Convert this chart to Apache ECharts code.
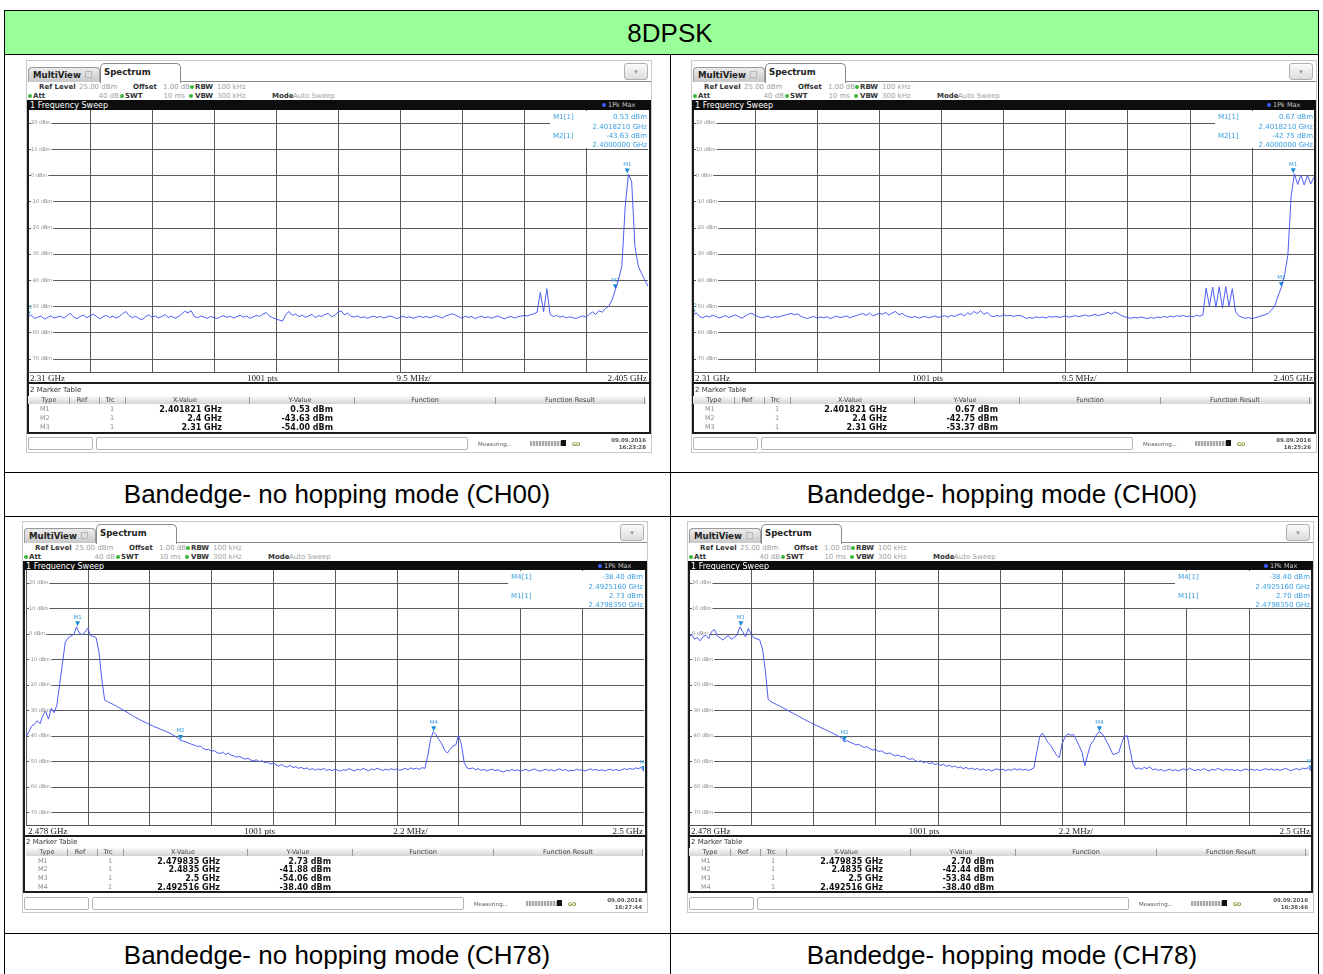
<!DOCTYPE html>
<html><head><meta charset="utf-8">
<script src="https://cdn.jsdelivr.net/npm/echarts@6/dist/echarts.min.js"></script>
<style>
body{margin:0;width:1323px;height:974px;position:relative;overflow:hidden;background:#fff;font-family:"DejaVu Sans",sans-serif;}
.a{position:absolute;white-space:nowrap;box-sizing:border-box;}
</style></head><body>
<script>
// ---------------- DATA ----------------
const TITLE = '8DPSK';
const CAPTIONS = ['Bandedge- no hopping mode (CH00)', 'Bandedge- hopping mode (CH00)', 'Bandedge- no hopping mode (CH78)', 'Bandedge- hopping mode (CH78)'];
const SWEEP_CH00 = [2.31, 2.405];   // GHz start / stop
const SWEEP_CH78 = [2.478, 2.5];
const X_TICKS_CH00 = [2.31, 2.3195, 2.329, 2.3385, 2.348, 2.3575, 2.367, 2.3765, 2.386, 2.3955, 2.405];
const X_TICKS_CH78 = [2.478, 2.4802, 2.4824, 2.4846, 2.4868, 2.489, 2.4912, 2.4934, 2.4956, 2.4978, 2.5];
const Y_TICKS = [-70, -60, -50, -40, -30, -20, -10, 0, 10, 20];
const Y_RANGE = [-75, 25];
const X_AXIS_TEXT_CH00 = ['2.31 GHz', '1001 pts', '9.5 MHz/', '2.405 GHz'];
const X_AXIS_TEXT_CH78 = ['2.478 GHz', '1001 pts', '2.2 MHz/', '2.5 GHz'];
const DATE = '09.09.2016';
const TIMES = ['16:23:28', '16:25:26', '16:27:44', '16:38:46'];

// trace levels (dBm), evenly spaced sweep points from start to stop
const LEVEL_NOHOP_CH00 = [
-54.0,-53.2,-54.6,-54.1,-53.6,-54.8,-54.2,-53.5,-54.4,-54.0,
-53.7,-54.5,-53.4,-52.6,-54.1,-54.6,-53.8,-53.3,-54.3,-53.6,
-52.9,-53.8,-54.7,-53.9,-53.4,-54.2,-53.6,-54.5,-53.8,-52.7,
-51.9,-53.5,-54.3,-53.7,-54.6,-55.0,-53.9,-53.2,-54.1,-53.6,
-54.4,-53.8,-53.1,-54.2,-53.7,-54.5,-53.9,-53.0,-51.8,-52.4,
-51.6,-53.9,-54.3,-53.6,-54.1,-54.5,-53.8,-54.2,-54.6,-53.9,
-53.5,-54.2,-53.7,-54.4,-53.9,-53.3,-54.1,-53.6,-54.5,-54.0,
-53.4,-53.8,-52.9,-52.3,-53.6,-54.3,-54.8,-55.2,-55.6,-53.1,
-51.9,-53.4,-52.8,-53.9,-53.3,-54.1,-53.6,-53.0,-54.2,-53.5,
-53.8,-53.1,-52.6,-53.9,-53.4,-52.2,-51.7,-53.2,-52.5,-53.8,
-54.0,-53.6,-54.3,-53.9,-54.5,-54.0,-53.7,-54.2,-53.8,-54.4,
-54.0,-53.6,-54.1,-54.6,-54.2,-53.7,-54.3,-53.9,-54.5,-54.1,
-53.7,-54.2,-53.8,-54.3,-54.0,-53.5,-53.9,-54.4,-53.6,-53.2,
-52.8,-53.3,-53.9,-54.5,-53.7,-54.2,-53.8,-54.6,-54.1,-53.7,
-54.3,-53.9,-54.5,-54.0,-53.6,-54.2,-54.7,-54.1,-53.8,-54.4,
-54.0,-53.7,-53.4,-53.6,-53.1,-52.8,-52.2,-44.6,-52.0,-43.2,
-53.0,-53.8,-53.4,-54.1,-53.7,-54.4,-53.9,-54.3,-54.6,-54.0,
-53.6,-54.0,-53.0,-52.1,-53.0,-51.6,-52.2,-50.7,-49.9,-47.4,
-43.63,-39.5,-34.5,-12.0,0.53,-2.5,-27.0,-34.5,-37.3,-39.8,-42.3];
const LEVEL_HOP_CH00 = [
-53.37,-52.4,-53.8,-54.3,-53.6,-54.0,-53.3,-53.8,-54.4,-53.9,
-53.5,-54.2,-53.7,-53.2,-53.9,-54.5,-53.6,-52.9,-52.6,-53.4,
-53.9,-54.3,-54.0,-53.6,-54.4,-53.8,-54.1,-53.7,-53.3,-53.0,
-52.6,-53.1,-52.8,-53.7,-54.2,-54.6,-54.1,-53.8,-54.5,-54.0,
-54.3,-53.9,-54.6,-54.1,-53.7,-54.2,-54.0,-53.6,-54.3,-53.8,
-53.5,-53.0,-52.7,-53.4,-52.5,-53.6,-53.1,-52.6,-52.9,-52.3,
-53.3,-52.4,-51.9,-53.2,-52.6,-53.5,-53.9,-54.2,-53.8,-54.4,
-54.1,-53.7,-54.3,-54.0,-53.6,-54.2,-53.9,-53.5,-54.1,-53.4,
-53.8,-53.2,-52.8,-53.6,-52.4,-53.1,-51.9,-52.7,-51.6,-53.0,
-52.3,-53.5,-53.9,-53.4,-53.8,-53.1,-53.6,-53.3,-53.8,-53.5,
-53.4,-53.9,-54.6,-54.2,-54.5,-53.9,-54.3,-54.0,-54.4,-53.8,
-54.1,-53.7,-54.2,-53.9,-53.6,-54.1,-53.8,-53.5,-53.9,-53.6,
-53.2,-53.7,-53.4,-53.0,-53.5,-53.1,-52.8,-52.2,-52.9,-52.1,
-52.6,-53.4,-53.9,-54.2,-54.5,-54.1,-54.4,-54.0,-54.3,-54.6,
-54.2,-54.5,-54.0,-54.3,-53.8,-54.1,-53.7,-54.0,-53.5,-53.8,
-53.4,-53.9,-53.6,-54.0,-53.3,-53.7,-53.2,-43.0,-49.8,-42.6,
-50.3,-42.5,-50.6,-42.4,-49.9,-43.2,-52.0,-53.6,-54.1,-54.5,
-54.2,-54.6,-54.3,-53.9,-53.5,-53.2,-52.6,-51.4,-49.8,-46.0,
-42.75,-37.8,-30.5,-8.0,0.67,-3.4,0.2,-3.6,0.1,-3.2,-0.6];
const LEVEL_NOHOP_CH78 = [
-40.4,-38.5,-36.2,-35.5,-34.1,-35.3,-32.0,-30.4,-33.5,-29.2,
-31.0,-28.0,-19.5,-11.5,-3.2,-1.6,-0.9,-0.3,2.73,0.2,
-0.4,0.6,2.2,-0.8,-1.0,-1.6,-7.5,-18.0,-26.0,-26.6,
-27.2,-27.7,-28.3,-28.9,-29.5,-30.2,-30.8,-31.5,-32.1,-32.8,
-33.4,-34.0,-34.5,-35.0,-35.6,-36.1,-36.6,-37.0,-37.5,-37.9,
-38.4,-38.9,-39.5,-40.1,-40.9,-41.88,-42.1,-42.5,-42.9,-43.4,
-43.7,-44.2,-44.0,-44.9,-45.5,-45.3,-46.1,-45.8,-46.6,-47.0,
-46.5,-47.3,-46.8,-47.6,-47.9,-48.4,-48.1,-48.7,-49.2,-48.8,
-49.5,-49.9,-49.4,-50.2,-49.8,-50.6,-50.3,-51.1,-50.7,-51.4,
-51.9,-51.2,-52.0,-52.3,-51.6,-52.5,-52.1,-52.8,-52.4,-53.0,
-52.6,-53.3,-52.9,-53.5,-53.0,-53.4,-52.8,-53.6,-53.2,-53.7,
-53.1,-53.5,-53.9,-53.3,-53.6,-52.9,-53.4,-53.8,-53.1,-53.5,
-52.8,-53.3,-53.7,-53.0,-53.4,-52.7,-53.2,-53.6,-53.1,-53.5,
-52.9,-53.4,-53.0,-53.6,-53.2,-52.8,-53.3,-52.6,-53.1,-52.7,
-53.2,-52.5,-52.8,-48.0,-41.5,-38.4,-39.6,-41.5,-43.2,-45.6,
-46.8,-45.3,-44.0,-43.6,-39.8,-43.5,-50.5,-52.6,-53.0,-52.6,
-53.3,-52.9,-53.6,-53.2,-53.8,-53.4,-53.1,-53.7,-53.3,-53.9,
-54.2,-53.6,-53.8,-53.2,-53.7,-53.4,-53.9,-53.5,-53.2,-53.8,
-53.4,-53.0,-53.6,-53.9,-53.5,-53.1,-53.7,-53.3,-53.8,-53.4,
-53.0,-53.6,-53.2,-53.9,-53.5,-53.7,-53.1,-53.6,-53.3,-53.8,
-53.4,-53.0,-53.5,-53.2,-53.7,-53.3,-53.8,-53.4,-53.1,-53.6,
-53.2,-53.7,-53.4,-52.9,-53.3,-52.8,-53.2,-52.6,-52.9,-52.4,
-54.06];
const LEVEL_HOP_CH78 = [
-1.2,-0.4,-2.1,-1.5,-2.8,-1.1,-0.6,-1.9,0.9,1.6,
-0.8,-1.6,-2.5,-1.3,-0.7,-2.2,-1.4,-0.5,2.70,0.8,
-1.2,2.1,-0.3,-1.6,-2.0,-2.4,-6.0,-14.5,-25.8,-26.7,
-27.2,-27.8,-28.3,-28.9,-29.5,-30.1,-30.7,-31.3,-31.9,-32.5,
-33.1,-33.7,-34.3,-34.8,-35.4,-35.9,-36.4,-37.0,-37.5,-38.0,
-38.6,-39.1,-39.7,-40.3,-40.9,-42.44,-41.9,-42.6,-43.0,-43.6,
-43.3,-44.1,-44.6,-44.3,-45.1,-45.6,-45.3,-46.2,-45.9,-46.6,
-47.1,-46.7,-47.4,-47.9,-47.5,-48.3,-48.0,-48.7,-49.3,-48.9,
-49.7,-50.2,-49.8,-50.6,-50.1,-51.0,-50.5,-51.3,-50.9,-51.6,
-51.2,-52.0,-51.5,-52.3,-51.8,-52.6,-52.2,-52.9,-52.4,-53.1,
-52.7,-53.3,-52.8,-53.5,-53.0,-53.6,-53.2,-53.8,-53.3,-53.0,
-53.5,-53.1,-53.7,-53.2,-53.6,-52.9,-53.4,-53.0,-53.5,-53.1,
-53.6,-53.2,-52.6,-46.5,-40.5,-39.0,-40.8,-42.6,-43.9,-45.8,
-47.6,-48.5,-43.0,-40.6,-39.2,-39.8,-39.5,-41.6,-44.0,-46.5,
-51.8,-47.5,-43.6,-42.0,-39.9,-38.40,-39.0,-40.8,-42.8,-45.1,
-47.4,-47.0,-46.6,-43.0,-40.2,-40.0,-45.5,-51.2,-53.0,-52.6,
-53.2,-52.4,-52.9,-52.1,-53.4,-53.0,-53.6,-53.2,-53.9,-53.5,
-53.1,-53.7,-53.3,-53.8,-53.4,-53.0,-53.6,-52.7,-53.3,-53.7,
-53.2,-53.6,-52.9,-53.4,-53.8,-53.1,-53.5,-52.8,-53.3,-53.6,
-53.0,-53.5,-53.2,-53.7,-53.3,-53.8,-53.4,-53.0,-53.5,-53.1,
-53.6,-53.2,-53.7,-53.3,-52.9,-53.4,-53.0,-53.5,-53.1,-53.6,
-53.2,-52.8,-53.3,-53.7,-53.2,-52.9,-53.4,-52.7,-53.0,-52.5,
-53.84];

// markers: [name, frequency GHz, level dBm]
const MARKERS_NOHOP_CH00 = [['M1', 2.401821, 0.53], ['M2', 2.4, -43.63], ['M3', 2.31, -54.00]];
const MARKERS_HOP_CH00   = [['M1', 2.401821, 0.67], ['M2', 2.4, -42.75], ['M3', 2.31, -53.37]];
const MARKERS_NOHOP_CH78 = [['M1', 2.479835, 2.73], ['M2', 2.4835, -41.88], ['M3', 2.5, -54.06], ['M4', 2.492516, -38.40]];
const MARKERS_HOP_CH78   = [['M1', 2.479835, 2.70], ['M2', 2.4835, -42.44], ['M3', 2.5, -53.84], ['M4', 2.492516, -38.40]];
const INFO_CH00 = ['M1', 'M2'];
const INFO_CH78 = ['M4', 'M1'];

// ---------------- LAYOUT ----------------
const LAYOUT = [
 {fx0:27, fx1:651, pl:28, pr:648, tabT:63, barT:100, pt:110, pb:372, titleY:390, headY:400, rowY0:409, rowH:9, tblB:434, stT:437, boxL:550},
 {fx0:692,fx1:1316,pl:693,pr:1314,tabT:63, barT:100, pt:110, pb:372, titleY:390, headY:400, rowY0:409, rowH:9, tblB:434, stT:437, boxL:1215},
 {fx0:23, fx1:647, pl:26, pr:644, tabT:524, barT:561, pt:570, pb:825, titleY:842, headY:852, rowY0:860.5, rowH:8.8, tblB:893, stT:897, boxL:508},
 {fx0:688,fx1:1313,pl:689,pr:1311,tabT:524, barT:561, pt:570, pb:825, titleY:842, headY:852, rowY0:860.5, rowH:8.8, tblB:893, stT:897, boxL:1175}
];
const PANEL_DATA = [
 {lv:LEVEL_NOHOP_CH00, sw:SWEEP_CH00, xt:X_TICKS_CH00, mk:MARKERS_NOHOP_CH00, info:INFO_CH00, xl:X_AXIS_TEXT_CH00},
 {lv:LEVEL_HOP_CH00,   sw:SWEEP_CH00, xt:X_TICKS_CH00, mk:MARKERS_HOP_CH00,   info:INFO_CH00, xl:X_AXIS_TEXT_CH00},
 {lv:LEVEL_NOHOP_CH78, sw:SWEEP_CH78, xt:X_TICKS_CH78, mk:MARKERS_NOHOP_CH78, info:INFO_CH78, xl:X_AXIS_TEXT_CH78},
 {lv:LEVEL_HOP_CH78,   sw:SWEEP_CH78, xt:X_TICKS_CH78, mk:MARKERS_HOP_CH78,   info:INFO_CH78, xl:X_AXIS_TEXT_CH78}
];

// ---------------- helpers ----------------
function box(x, y, w, h, css) {
  const d = document.createElement('div'); d.className = 'a';
  d.style.cssText = `left:${x}px;top:${y}px;width:${w}px;height:${h}px;` + (css || '');
  document.body.appendChild(d); return d;
}
function txt(x, y, s, css, align) {
  const d = document.createElement('div'); d.className = 'a'; d.textContent = s;
  const tx = align === 'r' ? '-100%' : align === 'c' ? '-50%' : '0';
  d.style.cssText = `left:${x}px;top:${y}px;transform:translate(${tx},-50%);line-height:1;` + (css || '');
  document.body.appendChild(d); return d;
}
function dot(x, y, c) { box(x - 2, y - 2, 4, 4, `background:${c};border-radius:50%;`); }

// ---------------- outer table ----------------
const CELL = 'border:1px solid #000;';
box(4, 10, 1315, 45, CELL + 'background:#99ff99;');
txt(670, 32.5, TITLE, 'font:26px "Liberation Sans",Arial,sans-serif;color:#000;', 'c');
const rowsY = [[54, 472], [472, 516], [516, 933], [933, 990]];
rowsY.forEach(r => { box(4, r[0], 667, r[1] - r[0] + 1, CELL); box(670, r[0], 649, r[1] - r[0] + 1, CELL); });
[[337, 494, 0], [1002, 494, 1], [337, 955, 2], [1002, 955, 3]].forEach(c =>
  txt(c[0], c[1], CAPTIONS[c[2]], 'font:26px "Liberation Sans",Arial,sans-serif;color:#000;', 'c'));

// ---------------- panels ----------------
const F7B = 'font:bold 7px "DejaVu Sans";color:#333;';
const F7G = 'font:7px "DejaVu Sans";color:#a0a0a0;';
const INFO_C = '#3a9fe0';

LAYOUT.forEach((L, k) => {
  const D = PANEL_DATA[k];
  const W = L.fx1 - L.fx0;
  // screenshot frame
  box(L.fx0 - 1, L.tabT - 3, W + 2, L.stT + 16 - (L.tabT - 3), 'border:1px solid #c8c8c8;background:#fff;');
  // tabs
  box(L.fx0 + 1, L.tabT + 4, 72, 15, 'background:linear-gradient(#ececec,#c9c9c9);border:1px solid #9a9a9a;border-bottom:none;border-radius:4px 4px 0 0;');
  txt(L.fx0 + 6, L.tabT + 11.5, 'MultiView', 'font:bold 8.6px "DejaVu Sans";color:#222;');
  box(L.fx0 + 58, L.tabT + 8, 7, 7, 'border:1px solid #b8b8b8;background:#ddd;');
  box(L.fx0 + 73, L.tabT, 81, 20, 'background:#fff;border:1px solid #8a8a8a;border-bottom:none;border-radius:5px 5px 0 0;');
  txt(L.fx0 + 77, L.tabT + 9, 'Spectrum', 'font:bold 8.6px "DejaVu Sans";color:#222;');
  box(L.fx0 + 153, L.tabT + 18, W - 153, 1, 'background:#8a8a8a;');
  box(L.fx1 - 27, L.tabT, 24, 17, 'border:1px solid #b0b0b0;border-radius:3px;background:linear-gradient(#fbfbfb,#dcdcdc);');
  txt(L.fx1 - 15, L.tabT + 8.5, '▾', 'font:7px "DejaVu Sans";color:#999;', 'c');
  // header lines
  const h1 = L.tabT + 23.5, h2 = L.tabT + 33;
  txt(L.fx0 + 12, h1, 'Ref Level', F7B); txt(L.fx0 + 52, h1, '25.00 dBm', F7G);
  txt(L.fx0 + 106, h1, 'Offset', F7B); txt(L.fx0 + 136, h1, '1.00 dB', F7G);
  dot(L.fx0 + 165, h1, '#3cb43c'); txt(L.fx0 + 168, h1, 'RBW', F7B); txt(L.fx0 + 190, h1, '100 kHz', F7G);
  dot(L.fx0 + 3, h2, '#3cb43c'); txt(L.fx0 + 6, h2, 'Att', F7B); txt(L.fx0 + 92, h2, '40 dB', F7G, 'r');
  dot(L.fx0 + 95, h2, '#3cb43c'); txt(L.fx0 + 98, h2, 'SWT', F7B); txt(L.fx0 + 158, h2, '10 ms', F7G, 'r');
  dot(L.fx0 + 164, h2, '#3cb43c'); txt(L.fx0 + 168, h2, 'VBW', F7B); txt(L.fx0 + 190, h2, '300 kHz', F7G);
  txt(L.fx0 + 245, h2, 'Mode', F7B); txt(L.fx0 + 266, h2, 'Auto Sweep', F7G);
  // black title bar
  box(L.fx0, L.barT, W, L.pt - L.barT, 'background:#0d0d0d;');
  txt(L.fx0 + 3, L.barT + 5, '1 Frequency Sweep', 'font:8px "DejaVu Sans";color:#fff;');
  dot(L.fx1 - 47, L.barT + 5, '#3b5bff');
  txt(L.fx1 - 43, L.barT + 5, '1Pk Max', 'font:6.5px "DejaVu Sans";color:#c8c8c8;');

  // chart
  const cd = box(L.pl, L.pt, L.pr - L.pl, L.pb - L.pt, '');
  const n = D.lv.length;
  const step = (D.sw[1] - D.sw[0]) / (n - 1);
  const pts = D.lv.map((v, i) => [D.sw[0] + i * step, v]);
  const ch = echarts.init(cd, null, {renderer: 'canvas'});
  ch.setOption({
    animation: false,
    grid: {left: 0, right: 0, top: 0, bottom: 0},
    xAxis: {type: 'value', min: D.sw[0], max: D.sw[1],
      axisLine: {show: false}, axisLabel: {show: false},
      axisTick: {show: false, customValues: D.xt},
      splitLine: {show: true, lineStyle: {color: '#5a5a5a', width: 1}}},
    yAxis: {type: 'value', min: Y_RANGE[0], max: Y_RANGE[1],
      axisLine: {show: false},
      axisTick: {show: false, customValues: Y_TICKS},
      axisLabel: {show: true, inside: true, margin: 3, customValues: Y_TICKS,
        formatter: v => v + ' dBm', fontSize: 5, color: '#8c8c8c', fontFamily: 'DejaVu Sans',
        backgroundColor: '#fff', padding: [0, 1, 0, 0]},
      splitLine: {show: true, lineStyle: {color: '#5a5a5a', width: 1}}},
    series: [{
      type: 'line', data: pts, showSymbol: false, symbol: 'none',
      lineStyle: {color: '#4d5cf2', width: 1}, z: 5,
      markPoint: {
        symbol: 'triangle', symbolRotate: 180, symbolSize: [5, 5], symbolOffset: [0, -3],
        itemStyle: {color: '#1d8ed8'},
        label: {show: true, position: 'top', distance: 1, formatter: '{b}', fontSize: 5.5, color: INFO_C, fontFamily: 'DejaVu Sans'},
        data: D.mk.map(m => ({name: m[0], coord: [m[1], m[2]]}))
      }
    }]
  });

  // marker info box
  box(L.boxL, L.pt + 1, L.pr - L.boxL, 37, 'background:#fff;');
  const FI = `font:7px "DejaVu Sans";color:${INFO_C};`;
  const iy = [L.pt + 7, L.pt + 16.5, L.pt + 26, L.pt + 35];
  D.info.forEach((nm, j) => {
    const m = D.mk.find(q => q[0] === nm);
    txt(L.boxL + 3, iy[2 * j], nm + '[1]', FI);
    txt(L.pr - 1, iy[2 * j], m[2].toFixed(2) + ' dBm', FI, 'r');
    txt(L.pr - 1, iy[2 * j + 1], m[1].toFixed(7) + ' GHz', FI, 'r');
  });

  // window 1 frame + axis text strip
  box(L.fx0, L.pt, W, L.pb - L.pt + 12, 'border:2px solid #1b1b1b;border-top:none;');
  box(L.pl, L.pb, L.pr - L.pl, 1, 'background:#555;');
  const FX = 'font:9px "Liberation Serif",serif;color:#222;';
  const ay = L.pb + 5.5, pw = L.pr - L.pl;
  txt(L.pl + 2, ay, D.xl[0], FX);
  txt(L.pl + pw * 0.378, ay, D.xl[1], FX, 'c');
  txt(L.pl + pw * 0.622, ay, D.xl[2], FX, 'c');
  txt(L.pr - 1, ay, D.xl[3], FX, 'r');

  // window 2: marker table
  const tT = L.pb + 11;
  box(L.fx0, tT, W, L.tblB - tT, 'border:2px solid #1b1b1b;border-top:none;');
  txt(L.fx0 + 3, L.titleY, '2 Marker Table', 'font:7px "DejaVu Sans";color:#333;');
  box(L.pl, L.headY - 4, L.pr - L.pl - 2, 8, 'background:linear-gradient(#fafafa,#d4d4d4);');
  const FH = 'font:6.5px "DejaVu Sans";color:#444;';
  [['Type', 21], ['Ref', 54], ['Trc', 82], ['X-Value', 157], ['Y-Value', 272], ['Function', 397], ['Function Result', 542]]
    .forEach(h => txt(L.pl + h[1], L.headY, h[0], FH, 'c'));
  [41, 71, 97, 221, 326, 467, 616].forEach(s => box(L.pl + s, L.headY - 3, 1, 7, 'background:#9a9a9a;'));
  const FR = 'font:6.5px "DejaVu Sans";color:#8a8a8a;';
  const FV = 'font:bold 8px "DejaVu Sans";color:#111;';
  D.mk.forEach((m, j) => {
    const y = L.rowY0 + j * L.rowH;
    txt(L.pl + 12, y, m[0], FR);
    txt(L.pl + 84, y, '1', FR, 'c');
    txt(L.pl + 194, y, m[1] + ' GHz', FV, 'r');
    txt(L.pl + 305, y, m[2].toFixed(2) + ' dBm', FV, 'r');
  });

  // status bar
  box(L.fx0 + 1, L.stT, 65, 13, 'border:1px solid #b4b4b4;border-radius:2px;background:#fff;');
  box(L.fx0 + 69, L.stT, 372, 13, 'border:1px solid #b4b4b4;border-radius:2px;background:#fff;');
  txt(L.fx0 + 451, L.stT + 6.5, 'Measuring...', 'font:5.5px "DejaVu Sans";color:#555;');
  box(L.fx0 + 503, L.stT + 4, 32, 5, 'background:repeating-linear-gradient(90deg,#a9a9a9 0 2px,#e6e6e6 2px 3px);');
  box(L.fx0 + 534, L.stT + 3, 5, 6, 'background:#111;');
  txt(L.fx0 + 545, L.stT + 6.5, 'GO', 'font:bold 5px "DejaVu Sans";color:#7a9a30;');
  txt(L.fx1 - 5, L.stT + 3, DATE, 'font:bold 5.5px "DejaVu Sans";color:#555;', 'r');
  txt(L.fx1 - 5, L.stT + 10, TIMES[k], 'font:bold 5.5px "DejaVu Sans";color:#555;', 'r');
});
</script>
</body></html>
